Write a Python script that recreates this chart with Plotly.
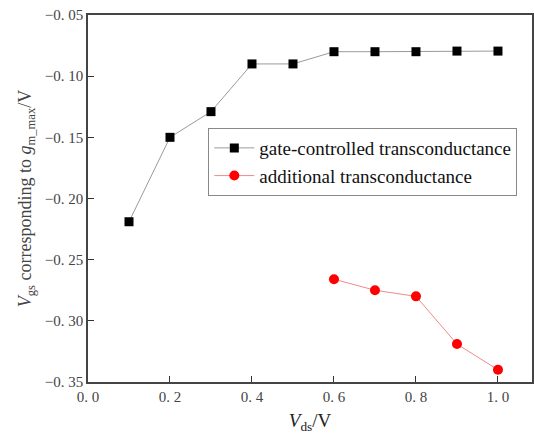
import plotly.graph_objects as go

vds = [0.1, 0.2, 0.3, 0.4, 0.5, 0.6, 0.7, 0.8, 0.9, 1.0]
gate_ctrl = [-0.219, -0.150, -0.129, -0.090, -0.090, -0.080, -0.080, -0.080, -0.0795, -0.0795]
vds_add = [0.6, 0.7, 0.8, 0.9, 1.0]
additional = [-0.266, -0.275, -0.280, -0.319, -0.340]

xticks = [0.0, 0.2, 0.4, 0.6, 0.8, 1.0]
xtick_text = ["0. 0", "0. 2", "0. 4", "0. 6", "0. 8", "1. 0"]
yticks = [-0.35, -0.30, -0.25, -0.20, -0.15, -0.10, -0.05]
ytick_text = ["−0. 35", "−0. 30", "−0. 25", "−0. 20", "−0. 15", "−0. 10", "−0. 05"]

serif = "Liberation Serif"

fig = go.Figure()
fig.add_trace(go.Scatter(
    x=vds, y=gate_ctrl, mode="lines+markers",
    name="gate-controlled transconductance",
    line=dict(color="#9a9a9a", width=1),
    marker=dict(symbol="square", size=9, color="black"),
))
fig.add_trace(go.Scatter(
    x=vds_add, y=additional, mode="lines+markers",
    name="additional transconductance",
    line=dict(color="#f08a8a", width=1),
    marker=dict(symbol="circle", size=10, color="#ff0000"),
))

axis_common = dict(
    showline=True, linecolor="#444", linewidth=1.5, mirror=True,
    ticks="inside", ticklen=6, tickwidth=1.2, tickcolor="#333",
    showgrid=False, zeroline=False,
    tickfont=dict(family=serif, size=15, color="#444"),
)

fig.update_layout(
    width=534, height=434,
    margin=dict(l=88, r=0, t=15, b=52),
    paper_bgcolor="white", plot_bgcolor="white",
    showlegend=True,
    legend=dict(
        x=0.271, y=0.692, xanchor="left", yanchor="top",
        bordercolor="#888", borderwidth=1, bgcolor="white",
        font=dict(family=serif, size=19, color="#111"),
        tracegroupgap=0, itemwidth=40,
    ),
    xaxis=dict(
        range=[0, 1.083], tickvals=xticks, ticktext=xtick_text,
        title=dict(text="<i>V</i><sub>ds</sub>/V", font=dict(family=serif, size=19, color="#222"), standoff=11),
        **axis_common,
    ),
    yaxis=dict(
        range=[-0.35, -0.05], tickvals=yticks, ticktext=ytick_text,
        title=dict(text="<i>V</i><sub>gs</sub> corresponding to <i>g</i><sub>m_max</sub>/V",
                   font=dict(family=serif, size=18, color="#444"), standoff=8),
        **axis_common,
    ),
)

fig.write_html("out.html")
